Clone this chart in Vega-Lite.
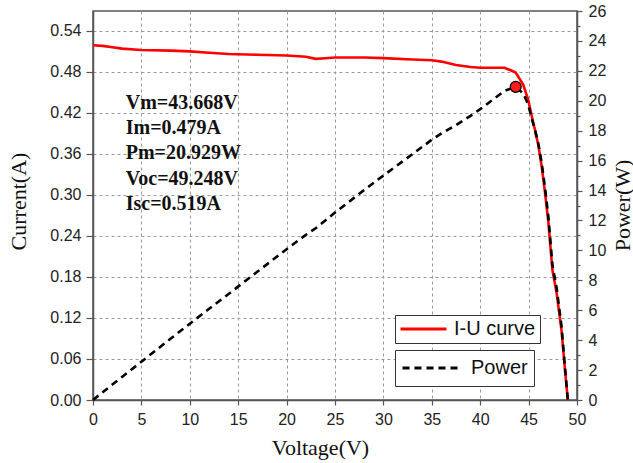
{
  "$schema": "https://vega.github.io/schema/vega-lite/v6.json",
  "width": 484,
  "height": 389,
  "autosize": {"type": "none"},
  "padding": {"left": 93, "top": 11, "right": 56, "bottom": 63},
  "background": "white",
  "config": {
    "view": {"stroke": "#555", "strokeWidth": 1.5},
    "font": "Liberation Sans",
    "axis": {
      "labelFont": "Liberation Sans",
      "labelFontSize": 16,
      "labelColor": "#222",
      "titleFont": "Liberation Serif",
      "titleFontSize": 22,
      "titleFontWeight": "normal",
      "titleColor": "#111",
      "domainColor": "#555",
      "domainWidth": 1.5,
      "tickColor": "#555",
      "tickWidth": 1.2,
      "gridColor": "#9a9a9a",
      "gridDash": [3, 3],
      "gridWidth": 1,
      "labelFlush": false,
      "labelOverlap": false
    }
  },
  "datasets": {
    "iv": [
      {"V": 0, "I": 0.519, "P": 0},
      {"V": 1, "I": 0.518, "P": 0.518},
      {"V": 2, "I": 0.516, "P": 1.032},
      {"V": 3, "I": 0.514, "P": 1.542},
      {"V": 5, "I": 0.512, "P": 2.56},
      {"V": 8, "I": 0.511, "P": 4.088},
      {"V": 10, "I": 0.51, "P": 5.1},
      {"V": 12, "I": 0.508, "P": 6.096},
      {"V": 14, "I": 0.506, "P": 7.084},
      {"V": 17, "I": 0.505, "P": 8.585},
      {"V": 20, "I": 0.504, "P": 10.08},
      {"V": 22, "I": 0.502, "P": 11.044},
      {"V": 23, "I": 0.499, "P": 11.477},
      {"V": 24, "I": 0.5, "P": 12.0},
      {"V": 25, "I": 0.501, "P": 12.525},
      {"V": 28, "I": 0.501, "P": 14.028},
      {"V": 30, "I": 0.5, "P": 15.0},
      {"V": 33, "I": 0.498, "P": 16.434},
      {"V": 35, "I": 0.497, "P": 17.395},
      {"V": 36, "I": 0.495, "P": 17.82},
      {"V": 37.5, "I": 0.49, "P": 18.375},
      {"V": 39, "I": 0.487, "P": 18.993},
      {"V": 40, "I": 0.486, "P": 19.44},
      {"V": 42.5, "I": 0.486, "P": 20.655},
      {"V": 43.2, "I": 0.482, "P": 20.822},
      {"V": 43.668, "I": 0.479, "P": 20.929},
      {"V": 44.45, "I": 0.461, "P": 20.49},
      {"V": 44.96, "I": 0.439, "P": 19.74},
      {"V": 45.3, "I": 0.417, "P": 18.89},
      {"V": 45.66, "I": 0.395, "P": 18.04},
      {"V": 46.0, "I": 0.373, "P": 17.16},
      {"V": 46.35, "I": 0.342, "P": 15.85},
      {"V": 46.7, "I": 0.303, "P": 14.15},
      {"V": 47.05, "I": 0.259, "P": 12.19},
      {"V": 47.46, "I": 0.19, "P": 9.02},
      {"V": 47.9, "I": 0.156, "P": 7.47},
      {"V": 48.4, "I": 0.102, "P": 4.94},
      {"V": 48.76, "I": 0.044, "P": 2.15},
      {"V": 49.05, "I": 0, "P": 0}
    ],
    "mpp": [{"V": 43.668, "P": 20.929}],
    "notes": [{"note": "Vm=43.668V|Im=0.479A|Pm=20.929W|Voc=49.248V|Isc=0.519A"}]
  },
  "layer": [
    {
      "layer": [
        {
          "data": {"name": "iv"},
          "mark": {"type": "line", "stroke": "#ff0000", "strokeWidth": 2.6},
          "encoding": {
            "x": {
              "field": "V",
              "type": "quantitative",
              "scale": {"domain": [0, 50], "nice": false, "zero": false},
              "axis": {
                "values": [0, 2.5, 5, 7.5, 10, 12.5, 15, 17.5, 20, 22.5, 25, 27.5, 30, 32.5, 35, 37.5, 40, 42.5, 45, 47.5, 50],
                "labelExpr": "datum.value % 5 === 0 ? datum.label : ''",
                "tickSize": {"condition": {"test": "datum.value % 5 === 0", "value": 5}, "value": 3},
                "grid": true,
                "gridOpacity": {"condition": {"test": "datum.value % 5 === 0 && datum.value > 0 && datum.value < 50", "value": 1}, "value": 0},
                "labelPadding": 6,
                "title": "Voltage(V)",
                "titleX": 227,
                "titleY": 47,
                "titleBaseline": "middle",
                "titleAlign": "center"
              }
            },
            "y": {
              "field": "I",
              "type": "quantitative",
              "scale": {"domain": [0, 0.569], "nice": false},
              "axis": {
                "values": [0, 0.03, 0.06, 0.09, 0.12, 0.15, 0.18, 0.21, 0.24, 0.27, 0.3, 0.33, 0.36, 0.39, 0.42, 0.45, 0.48, 0.51, 0.54],
                "labelExpr": "round(datum.value * 100) % 6 === 0 ? format(datum.value, '.2f') : ''",
                "tickSize": {"condition": {"test": "round(datum.value * 100) % 6 === 0", "value": 7}, "value": 4},
                "grid": true,
                "gridOpacity": {"condition": {"test": "round(datum.value * 100) % 6 === 0 && datum.value > 0", "value": 1}, "value": 0},
                "labelPadding": 5,
                "title": "Current(A)",
                "titleAngle": 270,
                "titleX": -75,
                "titleY": 190,
                "titleBaseline": "middle",
                "titleAlign": "center"
              }
            },
            "color": {
              "datum": "I-U curve",
              "scale": {"range": ["#ff0000"]},
              "legend": {
                "orient": "none",
                "legendX": 302,
                "legendY": 304,
                "title": null,
                "symbolType": "stroke",
                "symbolStrokeWidth": 3,
                "symbolSize": 2116,
                "clipHeight": 20,
                "labelFont": "Liberation Sans",
                "labelFontSize": 20,
                "labelColor": "#111",
                "labelOffset": 6,
                "padding": 4,
                "strokeColor": "#333",
                "fillColor": "white",
                "cornerRadius": 0
              }
            }
          }
        },
        {
          "data": {"name": "notes"},
          "mark": {
            "type": "text",
            "font": "Liberation Serif",
            "fontSize": 20,
            "fontWeight": "bold",
            "align": "left",
            "baseline": "alphabetic",
            "lineBreak": "|",
            "lineHeight": 25.2,
            "fill": "#111"
          },
          "encoding": {
            "x": {"datum": 3.38, "type": "quantitative"},
            "y": {"datum": 0.4255, "type": "quantitative"},
            "text": {"field": "note", "type": "nominal"}
          }
        }
      ]
    },
    {
      "layer": [
        {
          "data": {"name": "iv"},
          "mark": {"type": "line", "stroke": "black", "strokeWidth": 2.6},
          "encoding": {
            "x": {"field": "V", "type": "quantitative"},
            "y": {
              "field": "P",
              "type": "quantitative",
              "scale": {"domain": [0, 26], "nice": false},
              "axis": {
                "orient": "right",
                "values": [0, 1, 2, 3, 4, 5, 6, 7, 8, 9, 10, 11, 12, 13, 14, 15, 16, 17, 18, 19, 20, 21, 22, 23, 24, 25, 26],
                "labelExpr": "datum.value % 2 === 0 ? datum.label : ''",
                "tickSize": {"condition": {"test": "datum.value % 2 === 0", "value": 5}, "value": 3},
                "grid": false,
                "labelPadding": 6,
                "title": "Power(W)",
                "titleAngle": 270,
                "titleX": 45,
                "titleY": 194,
                "titleBaseline": "middle",
                "titleAlign": "center"
              }
            },
            "strokeDash": {
              "datum": "Power",
              "scale": {"range": [[7, 5]]},
              "legend": {
                "orient": "none",
                "legendX": 302,
                "legendY": 339,
                "title": null,
                "symbolType": "stroke",
                "symbolStrokeColor": "black",
                "symbolStrokeWidth": 3,
                "symbolSize": 3249,
                "clipHeight": 24,
                "labelFont": "Liberation Sans",
                "labelFontSize": 20,
                "labelColor": "#111",
                "labelOffset": 10,
                "padding": 6,
                "strokeColor": "#333",
                "fillColor": "white",
                "cornerRadius": 0
              }
            }
          }
        },
        {
          "data": {"name": "mpp"},
          "mark": {"type": "point", "shape": "circle", "filled": true, "fill": "#ff1a1a", "stroke": "black", "strokeWidth": 1.2, "size": 120, "opacity": 1},
          "encoding": {
            "x": {"field": "V", "type": "quantitative"},
            "y": {
              "field": "P",
              "type": "quantitative",
              "scale": {"domain": [0, 26], "nice": false},
              "axis": {
                "orient": "right",
                "values": [0, 1, 2, 3, 4, 5, 6, 7, 8, 9, 10, 11, 12, 13, 14, 15, 16, 17, 18, 19, 20, 21, 22, 23, 24, 25, 26],
                "labelExpr": "datum.value % 2 === 0 ? datum.label : ''",
                "tickSize": {"condition": {"test": "datum.value % 2 === 0", "value": 5}, "value": 3},
                "grid": false,
                "labelPadding": 6,
                "title": "Power(W)",
                "titleAngle": 270,
                "titleX": 45,
                "titleY": 194,
                "titleBaseline": "middle",
                "titleAlign": "center"
              }
            }
          }
        }
      ]
    }
  ],
  "resolve": {"scale": {"y": "independent"}, "axis": {"y": "independent"}}
}
